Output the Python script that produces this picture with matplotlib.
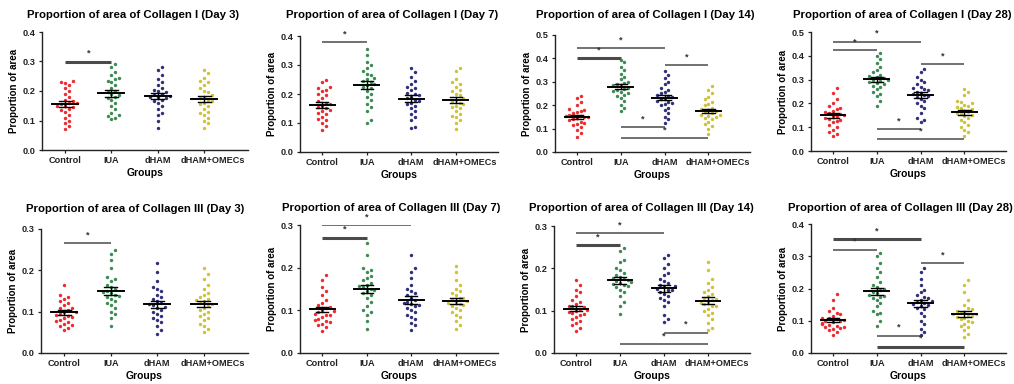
import numpy as np
import matplotlib
matplotlib.use("Agg")
import matplotlib.pyplot as plt
import matplotlib.transforms as mtrans

plt.rcParams['font.family'] = ['Liberation Sans', 'DejaVu Sans']
plt.rcParams['font.weight'] = 'bold'

groups = ["Control", "IUA", "dHAM", "dHAM+OMECs"]
colors = ["#ee2a2e", "#3d8a52", "#2f2f7a", "#cdc23a"]

# Collagen I
c1_d3_control = [0.235, 0.232, 0.228, 0.22, 0.21, 0.2, 0.19, 0.18, 0.17, 0.165, 0.16, 0.158, 0.155,
                 0.15, 0.148, 0.145, 0.14, 0.135, 0.13, 0.12, 0.11, 0.1, 0.09, 0.08, 0.07]
c1_d3_iua = [0.29, 0.28, 0.265, 0.255, 0.245, 0.24, 0.235, 0.23, 0.22, 0.21, 0.2, 0.195, 0.19,
             0.185, 0.18, 0.175, 0.17, 0.16, 0.15, 0.14, 0.125, 0.12, 0.115, 0.11, 0.105]
c1_d3_dham = [0.28, 0.27, 0.255, 0.24, 0.23, 0.22, 0.21, 0.205, 0.2, 0.195, 0.19, 0.185, 0.182,
              0.18, 0.178, 0.175, 0.17, 0.165, 0.16, 0.15, 0.14, 0.125, 0.12, 0.1, 0.075]
c1_d3_omecs = [0.27, 0.26, 0.245, 0.235, 0.23, 0.22, 0.21, 0.2, 0.195, 0.185, 0.18, 0.175, 0.17,
               0.165, 0.16, 0.155, 0.15, 0.14, 0.13, 0.125, 0.12, 0.11, 0.1, 0.09, 0.075]

c1_d7_control = [0.248, 0.24, 0.225, 0.22, 0.215, 0.21, 0.2, 0.195, 0.185, 0.175, 0.17, 0.165, 0.16,
                 0.155, 0.15, 0.145, 0.14, 0.135, 0.13, 0.12, 0.115, 0.11, 0.1, 0.09, 0.075]
c1_d7_iua = [0.355, 0.335, 0.31, 0.3, 0.29, 0.28, 0.27, 0.265, 0.255, 0.25, 0.245, 0.24, 0.235,
             0.23, 0.225, 0.22, 0.21, 0.2, 0.19, 0.18, 0.165, 0.155, 0.14, 0.11, 0.1]
c1_d7_dham = [0.29, 0.275, 0.26, 0.245, 0.235, 0.225, 0.22, 0.215, 0.205, 0.2, 0.195, 0.19, 0.185,
              0.18, 0.175, 0.17, 0.165, 0.16, 0.15, 0.14, 0.13, 0.12, 0.11, 0.085, 0.082]
c1_d7_omecs = [0.29, 0.28, 0.25, 0.24, 0.235, 0.225, 0.215, 0.21, 0.2, 0.195, 0.185, 0.18, 0.175,
               0.17, 0.165, 0.16, 0.155, 0.15, 0.14, 0.13, 0.125, 0.12, 0.11, 0.1, 0.08]

c1_d14_control = [0.24, 0.23, 0.215, 0.2, 0.185, 0.18, 0.175, 0.17, 0.165, 0.16, 0.155, 0.153, 0.15,
                  0.148, 0.145, 0.14, 0.135, 0.13, 0.125, 0.12, 0.115, 0.105, 0.095, 0.08, 0.065]
c1_d14_iua = [0.395, 0.385, 0.365, 0.35, 0.335, 0.32, 0.31, 0.3, 0.295, 0.29, 0.285, 0.28, 0.275,
              0.27, 0.265, 0.26, 0.255, 0.25, 0.245, 0.24, 0.23, 0.22, 0.2, 0.19, 0.175]
c1_d14_dham = [0.345, 0.33, 0.315, 0.3, 0.29, 0.275, 0.265, 0.255, 0.25, 0.245, 0.24, 0.235, 0.23,
               0.225, 0.22, 0.215, 0.21, 0.205, 0.2, 0.19, 0.18, 0.165, 0.15, 0.14, 0.125]
c1_d14_omecs = [0.28, 0.265, 0.25, 0.235, 0.225, 0.215, 0.205, 0.2, 0.19, 0.185, 0.18, 0.175, 0.17,
                0.165, 0.16, 0.158, 0.155, 0.15, 0.145, 0.14, 0.13, 0.12, 0.11, 0.1, 0.075]

c1_d28_control = [0.265, 0.245, 0.22, 0.2, 0.19, 0.18, 0.175, 0.17, 0.165, 0.16, 0.155, 0.15, 0.148,
                  0.145, 0.14, 0.135, 0.13, 0.125, 0.12, 0.11, 0.1, 0.09, 0.08, 0.07, 0.065]
c1_d28_iua = [0.41, 0.4, 0.385, 0.37, 0.355, 0.34, 0.33, 0.32, 0.315, 0.31, 0.305, 0.3, 0.298,
              0.295, 0.29, 0.285, 0.28, 0.275, 0.27, 0.26, 0.25, 0.24, 0.23, 0.21, 0.19]
c1_d28_dham = [0.345, 0.33, 0.31, 0.3, 0.29, 0.28, 0.27, 0.265, 0.26, 0.255, 0.25, 0.245, 0.24,
               0.235, 0.23, 0.225, 0.22, 0.21, 0.2, 0.19, 0.18, 0.16, 0.14, 0.13, 0.12]
c1_d28_omecs = [0.262, 0.25, 0.235, 0.21, 0.205, 0.2, 0.195, 0.19, 0.185, 0.18, 0.175, 0.17, 0.165,
                0.16, 0.155, 0.15, 0.145, 0.14, 0.13, 0.12, 0.11, 0.1, 0.09, 0.08, 0.065]

# Collagen III
c3_d3_control = [0.165, 0.14, 0.135, 0.13, 0.125, 0.12, 0.115, 0.11, 0.108, 0.105, 0.1, 0.098, 0.095,
                 0.092, 0.09, 0.088, 0.085, 0.08, 0.078, 0.075, 0.07, 0.068, 0.065, 0.06, 0.055]
c3_d3_iua = [0.248, 0.24, 0.225, 0.205, 0.185, 0.18, 0.175, 0.165, 0.16, 0.155, 0.15, 0.148, 0.145,
             0.14, 0.138, 0.135, 0.13, 0.125, 0.12, 0.115, 0.11, 0.1, 0.095, 0.085, 0.065]
c3_d3_dham = [0.218, 0.195, 0.175, 0.16, 0.155, 0.15, 0.14, 0.135, 0.13, 0.125, 0.12, 0.118, 0.115,
              0.112, 0.11, 0.105, 0.1, 0.095, 0.09, 0.085, 0.08, 0.075, 0.065, 0.055, 0.047]
c3_d3_omecs = [0.205, 0.19, 0.18, 0.165, 0.155, 0.145, 0.14, 0.135, 0.13, 0.128, 0.125, 0.12, 0.118,
               0.115, 0.11, 0.105, 0.1, 0.095, 0.09, 0.085, 0.08, 0.07, 0.065, 0.058, 0.05]

c3_d7_control = [0.182, 0.17, 0.155, 0.145, 0.135, 0.125, 0.118, 0.112, 0.108, 0.105, 0.1, 0.098, 0.095,
                 0.092, 0.09, 0.088, 0.085, 0.08, 0.077, 0.075, 0.072, 0.068, 0.065, 0.06, 0.052]
c3_d7_iua = [0.258, 0.23, 0.2, 0.195, 0.19, 0.18, 0.175, 0.17, 0.165, 0.16, 0.158, 0.155, 0.15,
             0.148, 0.145, 0.14, 0.135, 0.13, 0.12, 0.11, 0.1, 0.095, 0.09, 0.075, 0.057]
c3_d7_dham = [0.23, 0.2, 0.19, 0.175, 0.16, 0.15, 0.145, 0.14, 0.135, 0.13, 0.125, 0.12, 0.118,
              0.115, 0.112, 0.11, 0.105, 0.1, 0.095, 0.09, 0.085, 0.08, 0.07, 0.065, 0.053]
c3_d7_omecs = [0.205, 0.19, 0.17, 0.16, 0.15, 0.145, 0.14, 0.135, 0.13, 0.128, 0.125, 0.122, 0.12,
               0.118, 0.115, 0.112, 0.11, 0.105, 0.1, 0.095, 0.09, 0.085, 0.075, 0.065, 0.057]

c3_d14_control = [0.172, 0.16, 0.15, 0.145, 0.135, 0.125, 0.12, 0.115, 0.112, 0.11, 0.108, 0.105, 0.102,
                  0.1, 0.098, 0.095, 0.092, 0.09, 0.085, 0.08, 0.075, 0.07, 0.065, 0.058, 0.053]
c3_d14_iua = [0.248, 0.24, 0.22, 0.215, 0.2, 0.195, 0.19, 0.185, 0.18, 0.178, 0.175, 0.172, 0.17,
              0.168, 0.165, 0.162, 0.16, 0.158, 0.155, 0.15, 0.145, 0.135, 0.12, 0.11, 0.092]
c3_d14_dham = [0.232, 0.225, 0.21, 0.2, 0.19, 0.185, 0.175, 0.17, 0.165, 0.16, 0.158, 0.155, 0.152,
               0.15, 0.148, 0.145, 0.14, 0.135, 0.13, 0.125, 0.12, 0.11, 0.09, 0.08, 0.073]
c3_d14_omecs = [0.215, 0.195, 0.175, 0.165, 0.155, 0.15, 0.145, 0.14, 0.135, 0.13, 0.128, 0.125, 0.12,
                0.118, 0.115, 0.112, 0.11, 0.105, 0.1, 0.095, 0.09, 0.08, 0.07, 0.06, 0.055]

c3_d28_control = [0.182, 0.165, 0.14, 0.13, 0.125, 0.12, 0.115, 0.11, 0.108, 0.105, 0.102, 0.1, 0.098,
                  0.095, 0.092, 0.09, 0.088, 0.085, 0.082, 0.08, 0.078, 0.075, 0.07, 0.065, 0.057]
c3_d28_iua = [0.31, 0.3, 0.28, 0.265, 0.25, 0.235, 0.22, 0.21, 0.205, 0.2, 0.195, 0.19, 0.185,
              0.18, 0.178, 0.175, 0.17, 0.165, 0.155, 0.145, 0.13, 0.125, 0.12, 0.1, 0.083]
c3_d28_dham = [0.265, 0.25, 0.23, 0.21, 0.195, 0.19, 0.18, 0.175, 0.17, 0.165, 0.16, 0.158, 0.155,
               0.152, 0.15, 0.145, 0.14, 0.135, 0.125, 0.115, 0.1, 0.09, 0.075, 0.065, 0.057]
c3_d28_omecs = [0.225, 0.21, 0.19, 0.165, 0.15, 0.14, 0.135, 0.13, 0.128, 0.125, 0.122, 0.12, 0.118,
                0.115, 0.112, 0.11, 0.105, 0.1, 0.095, 0.09, 0.085, 0.08, 0.07, 0.06, 0.05]

# significance bars: (group a, group b, height, thick)
sig_c1_d3 = [(0, 1, 0.30, True)]
sig_c1_d7 = [(0, 1, 0.38, False)]
sig_c1_d14 = [(0, 2, 0.443, False), (0, 1, 0.403, True), (2, 3, 0.371, False),
              (1, 2, 0.105, False), (1, 3, 0.058, False)]
sig_c1_d28 = [(0, 2, 0.46, False), (0, 1, 0.425, False), (2, 3, 0.366, False),
              (1, 2, 0.093, False), (1, 3, 0.05, False)]
sig_c3_d3 = [(0, 1, 0.265, False)]
sig_c3_d7 = [(0, 2, 0.30, False), (0, 1, 0.27, True)]
sig_c3_d14 = [(0, 2, 0.283, False), (0, 1, 0.254, True), (2, 3, 0.048, False), (1, 3, 0.021, False)]
sig_c3_d28 = [(0, 2, 0.352, True), (0, 1, 0.32, False), (2, 3, 0.279, False),
              (1, 2, 0.053, False), (1, 3, 0.02, True)]

panels = [
    ("Proportion of area of Collagen I (Day 3)", [c1_d3_control, c1_d3_iua, c1_d3_dham, c1_d3_omecs], 0.4, sig_c1_d3),
    ("Proportion of area of Collagen I (Day 7)", [c1_d7_control, c1_d7_iua, c1_d7_dham, c1_d7_omecs], 0.4, sig_c1_d7),
    ("Proportion of area of Collagen I (Day 14)", [c1_d14_control, c1_d14_iua, c1_d14_dham, c1_d14_omecs], 0.5, sig_c1_d14),
    ("Proportion of area of Collagen I (Day 28)", [c1_d28_control, c1_d28_iua, c1_d28_dham, c1_d28_omecs], 0.5, sig_c1_d28),
    ("Proportion of area of Collagen III (Day 3)", [c3_d3_control, c3_d3_iua, c3_d3_dham, c3_d3_omecs], 0.3, sig_c3_d3),
    ("Proportion of area of Collagen III (Day 7)", [c3_d7_control, c3_d7_iua, c3_d7_dham, c3_d7_omecs], 0.3, sig_c3_d7),
    ("Proportion of area of Collagen III (Day 14)", [c3_d14_control, c3_d14_iua, c3_d14_dham, c3_d14_omecs], 0.3, sig_c3_d14),
    ("Proportion of area of Collagen III (Day 28)", [c3_d28_control, c3_d28_iua, c3_d28_dham, c3_d28_omecs], 0.4, sig_c3_d28),
]

# axes boxes in pixels: left, top, right, bottom
boxes = [(42, 32, 248, 150), (300, 36, 498, 152), (555, 35, 750, 152), (811, 32, 1006, 151),
         (41, 229, 248, 353), (300, 225, 498, 353), (554, 226, 750, 353), (811, 224, 1006, 353)]
# title centres in pixels
title_pos = [(133, 15), (392, 15), (645, 15), (902, 15),
             (135, 209), (391, 208), (641, 208), (900, 208)]

W, H = 1014, 384


def swarm(vals, ymax, dx=0.085):
    vals = np.asarray(vals)
    ythr = 0.045 * ymax
    offs = np.zeros(len(vals))
    placed = []
    for i in np.argsort(vals):
        y = vals[i]
        for k in [0, 1, -1, 2, -2, 3, -3]:
            x = k * dx
            if all(((x - px) / dx) ** 2 + ((y - py) / ythr) ** 2 >= 0.95 for px, py in placed):
                break
        offs[i] = x
        placed.append((x, y))
    return offs


fig = plt.figure(figsize=(W / 100, H / 100), dpi=100)

for (title, data, ymax, sigs), (l, t, r, b), (tx, ty) in zip(panels, boxes, title_pos):
    ax = fig.add_axes([l / W, 1 - b / H, (r - l) / W, (b - t) / H])
    for g, vals in enumerate(data):
        xpos = g + 1
        ax.scatter(xpos + swarm(vals, ymax), vals, s=6, color=colors[g], linewidths=0, zorder=2)
        m = np.mean(vals)
        sem = np.std(vals, ddof=1) / np.sqrt(len(vals))
        ax.plot([xpos - 0.28, xpos + 0.28], [m, m], color="black", lw=1.4, zorder=3)
        ax.plot([xpos, xpos], [m - sem, m + sem], color="black", lw=1.0, zorder=3)
        for v in (m - sem, m + sem):
            ax.plot([xpos - 0.14, xpos + 0.14], [v, v], color="black", lw=1.0, zorder=3)
    for a, c, y, thick in sigs:
        ax.plot([a + 1, c + 1], [y, y], color="#4a4a4a", lw=2.2 if thick else 1.1,
                solid_capstyle="butt", zorder=1)
        ax.text((a + c + 2) / 2, y + 0.012 * ymax / 0.4, "*", ha="center", va="bottom",
                fontsize=6.5, color="#333333")
    ax.set_xlim(0.5, 4.95)
    ax.set_ylim(0, ymax)
    ax.set_yticks(np.arange(0, ymax + 0.001, 0.1))
    ax.set_yticklabels([f"{v:.1f}" for v in np.arange(0, ymax + 0.001, 0.1)])
    ax.set_xticks([1, 2, 3, 4])
    ax.set_xticklabels(groups)
    ax.tick_params(labelsize=6.6, length=2.5, width=0.9, pad=2, colors="#222222")
    for lab in ax.get_xticklabels() + ax.get_yticklabels():
        lab.set_fontweight("bold")
    last = ax.get_xticklabels()[-1]
    last.set_transform(last.get_transform() + mtrans.ScaledTranslation(0.09, 0, fig.dpi_scale_trans))
    for s in ("top", "right"):
        ax.spines[s].set_visible(False)
    for s in ("left", "bottom"):
        ax.spines[s].set_linewidth(1.0)
        ax.spines[s].set_color("#222222")
    ax.set_ylabel("Proportion of area", fontsize=7, fontweight="bold", labelpad=3)
    ax.set_xlabel("Groups", fontsize=7.5, fontweight="bold", labelpad=2)
    fig.text(tx / W, 1 - ty / H, title, fontsize=8.2, fontweight="bold", ha="center", va="center")

fig.savefig("out.png", dpi=100, facecolor="white")
